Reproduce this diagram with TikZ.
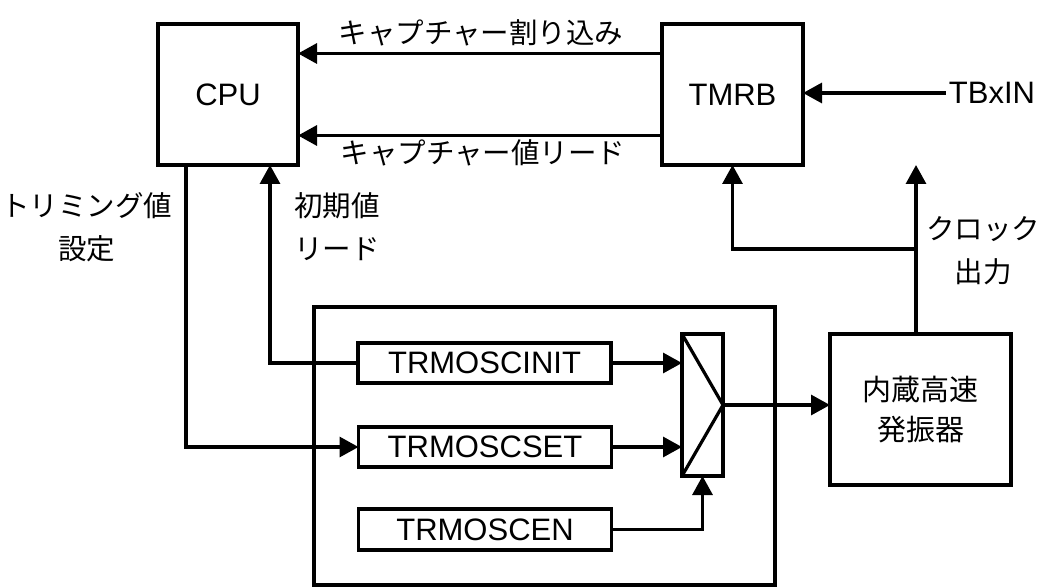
\documentclass[tikz,border=0pt]{standalone}
\usepackage{fontspec}
\setmainfont{Liberation Sans}
\newfontfamily\jp{Noto Sans CJK JP}
\usetikzlibrary{arrows.meta}
\begin{document}
\begin{tikzpicture}[x=1pt,y=-1pt,
  box/.style={draw,line width=3.2pt,inner sep=0pt,outer sep=0pt,align=center,font=\fontsize{31}{36}\selectfont},
  lbl/.style={inner sep=0pt,align=center,font=\jp\fontsize{28.5}{43}\selectfont},
  conn/.style={line width=3.2pt,-{Triangle[length=19pt,width=20pt]}},
  wire/.style={line width=3.2pt}]
\useasboundingbox (0,0) rectangle (1046,588);
% blocks
\node[box,minimum width=140pt,minimum height=141pt] (cpu) at (228,94.5) {CPU};
\node[box,minimum width=141pt,minimum height=141pt] (tmrb) at (732.5,94.5) {TMRB};
\node[box,minimum width=461pt,minimum height=278pt] (outer) at (544.5,446) {};
\node[box,minimum width=253pt,minimum height=40pt] (init) at (484.5,363) {TRMOSCINIT};
\node[box,minimum width=253pt,minimum height=40pt] (set) at (485,447) {TRMOSCSET};
\node[box,minimum width=253pt,minimum height=41pt] (en) at (485,529.5) {TRMOSCEN};
\node[box,minimum width=41pt,minimum height=142pt] (mux) at (702.5,405) {};
\draw[wire,line join=round] (mux.north west) -- (mux.east) -- (mux.south west);
\node[box,minimum width=181pt,minimum height=151pt,font=\jp\fontsize{29}{40}\selectfont] (osc) at (920.5,409.5) {内蔵高速\\発振器};
% labels
\node[inner sep=3pt,font=\fontsize{31}{36}\selectfont] (tbx) at (992,93) {TBxIN};
\node[lbl] (lcapint) at (481,33) {キャプチャー割り込み};
\node[lbl] (lcapval) at (483,153) {キャプチャー値リード};
\node[lbl] (ltrim) at (87,227) {トリミング値\\設定};
\node[lbl] (linit) at (337,227) {初期値\\リード};
\node[lbl] (lclk) at (983,251) {クロック\\出力};
% connectors
\draw[conn] ([yshift=41pt]tmrb.west) -- ([yshift=41pt]cpu.east);
\draw[conn] ([yshift=-41pt]tmrb.west) -- ([yshift=-41pt]cpu.east);
\draw[conn] (tbx.west) -- (tmrb.east |- tbx.west);
\coordinate (br) at (916,249);
\draw[conn] (br |- osc.north) -- (br |- tmrb.south);
\draw[conn] (br) -- (tmrb.south |- br) -- (tmrb.south);
\draw[conn] ([xshift=-42pt]cpu.south) |- (set.west);
\draw[conn] (init.west) -| ([xshift=42pt]cpu.south);
\draw[conn] (init.east) -- (mux.west |- init.east);
\draw[conn] (set.east) -- (mux.west |- set.east);
\draw[conn] (en.east) -| (mux.south);
\draw[conn] (mux.east) -- (osc.west |- mux.east);
\end{tikzpicture}
\end{document}
